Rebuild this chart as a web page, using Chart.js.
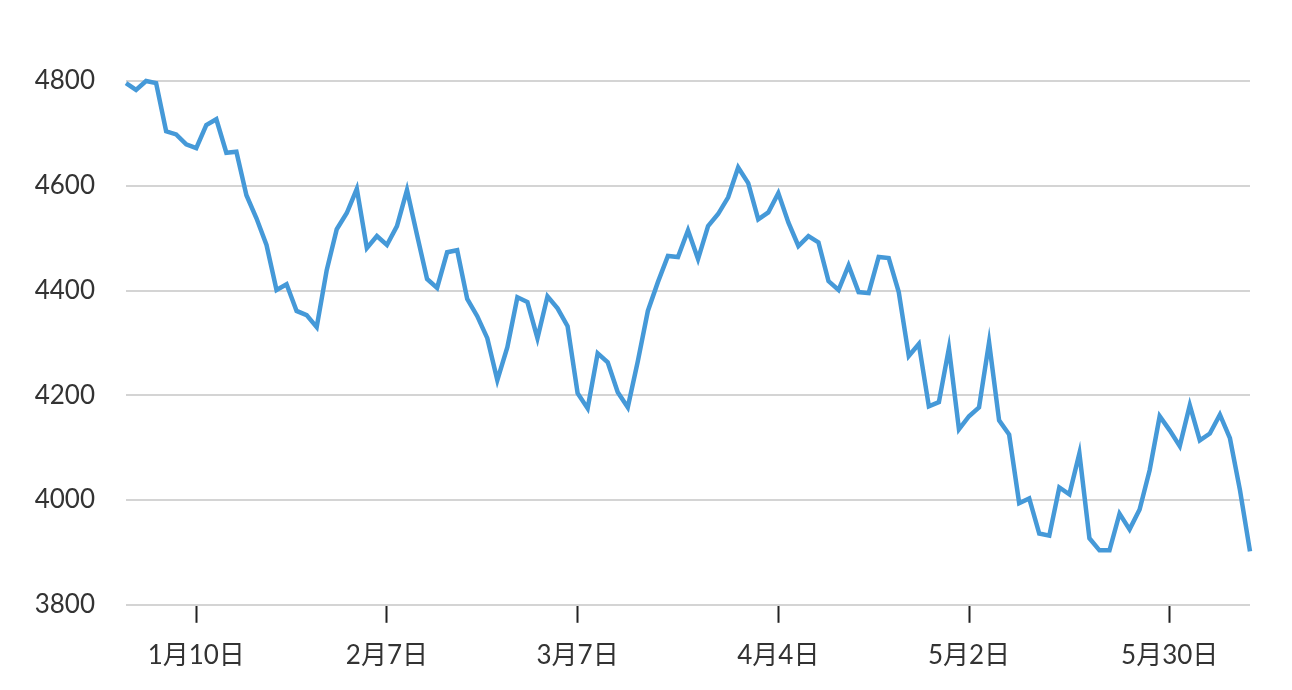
<!DOCTYPE html>
<html lang="ja">
<head>
    <meta charset="UTF-8">
    <title>S&P 500</title>
    <script src="https://cdn.jsdelivr.net/npm/chart.js"></script>
    <style>
        html, body { margin: 0; padding: 0; background: #fff; }
        #wrap { width: 1292px; height: 690px; position: relative; }
    </style>
</head>
<body>
    <div id="wrap"><canvas id="myChart"></canvas></div>
    <script>
        // trading days shown on the chart
        const dates = [
            "2021-12-30", "2021-12-31",
            "2022-01-03", "2022-01-04", "2022-01-05", "2022-01-06", "2022-01-07",
            "2022-01-10", "2022-01-11", "2022-01-12", "2022-01-13", "2022-01-14",
            "2022-01-18", "2022-01-19", "2022-01-20", "2022-01-21",
            "2022-01-24", "2022-01-25", "2022-01-26", "2022-01-27", "2022-01-28",
            "2022-01-31", "2022-02-01", "2022-02-02", "2022-02-03", "2022-02-04",
            "2022-02-07", "2022-02-08", "2022-02-09", "2022-02-10", "2022-02-11",
            "2022-02-14", "2022-02-15", "2022-02-16", "2022-02-17", "2022-02-18",
            "2022-02-22", "2022-02-23", "2022-02-24", "2022-02-25",
            "2022-02-28", "2022-03-01", "2022-03-02", "2022-03-03", "2022-03-04",
            "2022-03-07", "2022-03-08", "2022-03-09", "2022-03-10", "2022-03-11",
            "2022-03-14", "2022-03-15", "2022-03-16", "2022-03-17", "2022-03-18",
            "2022-03-21", "2022-03-22", "2022-03-23", "2022-03-24", "2022-03-25",
            "2022-03-28", "2022-03-29", "2022-03-30", "2022-03-31", "2022-04-01",
            "2022-04-04", "2022-04-05", "2022-04-06", "2022-04-07", "2022-04-08",
            "2022-04-11", "2022-04-12", "2022-04-13", "2022-04-14",
            "2022-04-18", "2022-04-19", "2022-04-20", "2022-04-21", "2022-04-22",
            "2022-04-25", "2022-04-26", "2022-04-27", "2022-04-28", "2022-04-29",
            "2022-05-02", "2022-05-03", "2022-05-04", "2022-05-05", "2022-05-06",
            "2022-05-09", "2022-05-10", "2022-05-11", "2022-05-12", "2022-05-13",
            "2022-05-16", "2022-05-17", "2022-05-18", "2022-05-19", "2022-05-20",
            "2022-05-23", "2022-05-24", "2022-05-25", "2022-05-26", "2022-05-27",
            "2022-05-31", "2022-06-01", "2022-06-02", "2022-06-03",
            "2022-06-06", "2022-06-07", "2022-06-08", "2022-06-09", "2022-06-10"
        ];

        const closes = [
            4796, 4783,
            4800, 4796, 4704, 4698, 4679,
            4672, 4716, 4727, 4663, 4665,
            4582, 4538, 4487, 4401,
            4412, 4361, 4353, 4330, 4439,
            4517, 4548, 4594, 4481, 4504,
            4487, 4523, 4592, 4506, 4422,
            4405, 4473, 4477, 4384, 4351,
            4309, 4229, 4292, 4387,
            4378, 4309, 4389, 4366, 4332,
            4204, 4175, 4280, 4263, 4206,
            4177, 4265, 4361, 4416, 4466,
            4464, 4515, 4460, 4523, 4546,
            4578, 4635, 4605, 4536, 4549,
            4586, 4530, 4485, 4504, 4492,
            4418, 4401, 4448, 4397,
            4395, 4464, 4462, 4397, 4275,
            4298, 4179, 4187, 4290, 4135,
            4160, 4177, 4301, 4152, 4125,
            3994, 4003, 3936, 3932, 4024,
            4011, 4089, 3927, 3904, 3904,
            3974, 3944, 3982, 4057, 4160,
            4133, 4103, 4181, 4114,
            4127, 4163, 4118, 4019, 3902
        ];

        // x axis ticks every 4 weeks
        const tickDates = ["2022-01-10", "2022-02-07", "2022-03-07", "2022-04-04", "2022-05-02", "2022-05-30"];
        const tickLabels = ["1月10日", "2月7日", "3月7日", "4月4日", "5月2日", "5月30日"];
        const yTicks = [3800, 4000, 4200, 4400, 4600, 4800];

        // first trading day on or after each tick date
        const tickIndex = tickDates.map(d => dates.findIndex(x => x >= d));

        const FONT = "Lato, 'Noto Sans CJK JP', sans-serif";

        const ctx = document.getElementById("myChart").getContext("2d");
        new Chart(ctx, {
            type: "line",
            data: {
                labels: dates,
                datasets: [{
                    data: closes,
                    borderColor: "#4599d8",
                    borderWidth: 4.5,
                    pointRadius: 0,
                    pointHoverRadius: 0,
                    fill: false,
                    tension: 0,
                    clip: 6
                }]
            },
            options: {
                responsive: true,
                maintainAspectRatio: false,
                animation: false,
                layout: { padding: { top: 81, left: 30, right: 42, bottom: 2 } },
                plugins: {
                    legend: { display: false },
                    tooltip: { enabled: false }
                },
                scales: {
                    x: {
                        type: "category",
                        offset: false,
                        border: { display: false },
                        grid: {
                            drawOnChartArea: false,
                            drawTicks: true,
                            tickLength: 18,
                            tickWidth: 2,
                            tickColor: "#222"
                        },
                        afterBuildTicks: (scale) => {
                            scale.ticks = tickIndex.map(i => ({ value: i }));
                        },
                        ticks: {
                            autoSkip: false,
                            maxRotation: 0,
                            padding: 17,
                            color: "#333",
                            font: { family: FONT, size: 26 },
                            callback: (value, index) => tickLabels[index]
                        }
                    },
                    y: {
                        min: yTicks[0],
                        max: yTicks[yTicks.length - 1],
                        border: { display: false },
                        grid: {
                            color: "#d4d4d4",
                            lineWidth: 2,
                            drawTicks: false
                        },
                        afterBuildTicks: (scale) => {
                            scale.ticks = yTicks.map(v => ({ value: v }));
                        },
                        afterFit: (scale) => { scale.width = 96; },
                        ticks: {
                            padding: 31,
                            color: "#333",
                            font: { family: FONT, size: 26 },
                            callback: (value) => String(value)
                        }
                    }
                }
            }
        });
    </script>
</body>
</html>
